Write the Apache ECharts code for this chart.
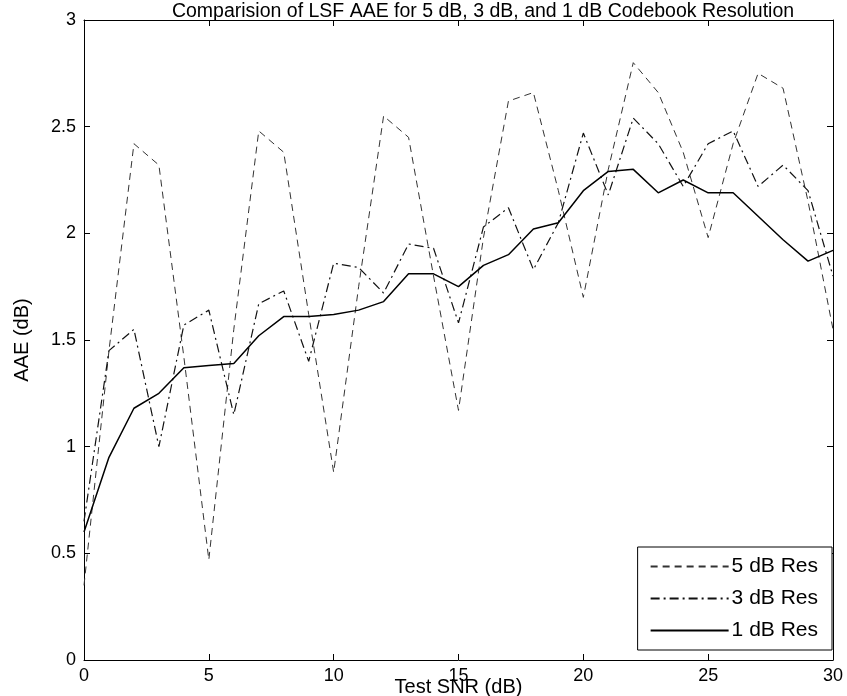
<!DOCTYPE html>
<html>
<head>
<meta charset="utf-8">
<script src="https://cdn.jsdelivr.net/npm/echarts@6/dist/echarts.min.js"></script>
<style>
html,body{margin:0;padding:0;background:#fff;}
#chart{width:847px;height:696px;}
</style>
</head>
<body>
<div id="chart"></div>
<script>
const snr = [0,1,2,3,4,5,6,7,8,9,10,11,12,13,14,15,16,17,18,19,20,21,22,23,24,25,26,27,28,29,30];
const res5 = [0.35,1.45,2.42,2.32,1.42,0.47,1.55,2.48,2.38,1.62,0.88,1.75,2.55,2.45,1.80,1.17,1.98,2.62,2.66,2.20,1.70,2.30,2.80,2.66,2.38,1.98,2.42,2.75,2.68,2.15,1.55];
const res3 = [0.65,1.45,1.55,1.00,1.57,1.64,1.15,1.67,1.73,1.40,1.86,1.84,1.72,1.95,1.93,1.58,2.03,2.12,1.83,2.05,2.47,2.18,2.54,2.42,2.22,2.42,2.48,2.22,2.32,2.20,1.80];
const res1 = [0.60,0.95,1.18,1.25,1.37,1.38,1.39,1.52,1.61,1.61,1.62,1.64,1.68,1.81,1.81,1.75,1.85,1.90,2.02,2.05,2.20,2.29,2.30,2.19,2.25,2.19,2.19,2.08,1.97,1.87,1.92];
const seriesNames = ['5 dB Res','3 dB Res','1 dB Res'];
const titleText = 'Comparision of LSF AAE for 5 dB, 3 dB, and 1 dB Codebook Resolution';
const xName = 'Test SNR (dB)';
const yName = 'AAE (dB)';

const pairs = v => snr.map((x,i)=>[x,v[i]]);
const font = 'Liberation Sans, Arial, sans-serif';
const chart = echarts.init(document.getElementById('chart'));
const axLine = {show:true, onZero:false, lineStyle:{color:'#000', width:1}};
const tick = {show:true, inside:true, length:6, lineStyle:{color:'#000', width:1}};
chart.setOption({
  backgroundColor:'#fff',
  animation:false,
  title:{text:titleText, left:478, top:-3, textAlign:'center',
    textStyle:{fontFamily:font, fontSize:19.5, fontWeight:'normal', color:'#000'}},
  grid:{left:84, right:14, top:20, bottom:36, containLabel:false, outerBoundsMode:'none'},
  legend:{
    data:seriesNames, orient:'vertical', right:15, bottom:46,
    itemWidth:78, itemHeight:14, itemGap:11,
    padding:[9,14,9,12], borderColor:'#000', borderWidth:1, backgroundColor:'#fff',
    itemStyle:{color:'transparent', borderWidth:0, opacity:0},
    textStyle:{fontFamily:font, fontSize:21, color:'#000', padding:[0,0,0,-2]}
  },
  xAxis:[
    {type:'value', min:0, max:30, interval:5, position:'bottom',
     axisLine:axLine, axisTick:tick, splitLine:{show:false},
     axisLabel:{fontFamily:font, fontSize:18, color:'#000', margin:7},
     name:xName, nameLocation:'middle', nameGap:17, nameMoveOverlap:false,
     nameTextStyle:{fontFamily:font, fontSize:20, color:'#000'}},
    {type:'value', min:0, max:30, interval:5, position:'top',
     axisLine:axLine, axisTick:tick, axisLabel:{show:false}, splitLine:{show:false}}
  ],
  yAxis:[
    {type:'value', min:0, max:3, interval:0.5, position:'left',
     axisLine:axLine, axisTick:tick, splitLine:{show:false},
     axisLabel:{fontFamily:font, fontSize:18, color:'#000', margin:8},
     name:yName, nameLocation:'middle', nameGap:52, nameMoveOverlap:false,
     nameTextStyle:{fontFamily:font, fontSize:20, color:'#000'}},
    {type:'value', min:0, max:3, interval:0.5, position:'right',
     axisLine:axLine, axisTick:tick, axisLabel:{show:false}, splitLine:{show:false}}
  ],
  series:[
    {name:seriesNames[0], type:'line', data:pairs(res5), symbol:'none',
     lineStyle:{color:'#333', width:1, type:[7,5]}, itemStyle:{color:'#333'}},
    {name:seriesNames[1], type:'line', data:pairs(res3), symbol:'none',
     lineStyle:{color:'#111', width:1.2, type:[9,4,2,4]}, itemStyle:{color:'#111'}},
    {name:seriesNames[2], type:'line', data:pairs(res1), symbol:'none',
     lineStyle:{color:'#000', width:1.5, type:'solid'}, itemStyle:{color:'#000'}}
  ]
});
</script>
</body>
</html>
